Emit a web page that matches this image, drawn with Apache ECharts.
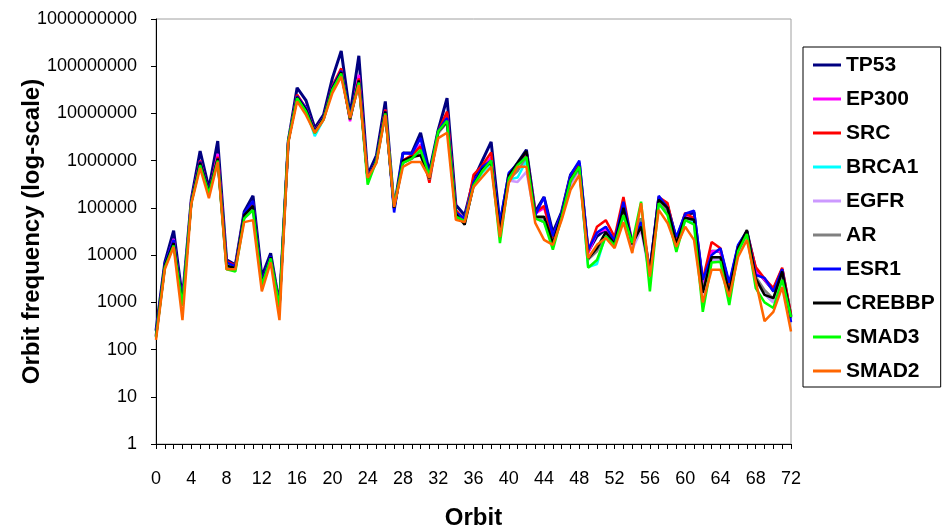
<!DOCTYPE html>
<html>
<head>
<meta charset="utf-8">
<script src="https://cdn.jsdelivr.net/npm/echarts@6/dist/echarts.min.js"></script>
<style>
  html, body { margin: 0; padding: 0; background: #fff; }
  #chart { width: 944px; height: 530px; }
</style>
</head>
<body>
<div id="chart"></div>
<script>
// orbit 0..72
var orbits = [];
for (var i = 0; i <= 72; i++) orbits.push(String(i));

var yTicks = [1, 10, 100, 1000, 10000, 100000, 1000000, 10000000, 100000000, 1000000000];

var names = ['TP53', 'EP300', 'SRC', 'BRCA1', 'EGFR', 'AR', 'ESR1', 'CREBBP', 'SMAD3', 'SMAD2'];
var colors = ['#000080', '#ff00ff', '#ff0000', '#00ffff', '#cc99ff', '#808080', '#0000ff', '#000000', '#00ff00', '#ff6600'];

// values per orbit
var TP53 = [250,7000,33000,1200,150000,1600000,260000,2600000,8000,6200,83000,180000,3500,11000,900,2600000,35000000,19000000,4900000,9300000,56000000,210000000,9300000,166000000,500000,1300000,18000000,100000,1450000,1450000,3900000,580000,4500000,21000000,115000,70000,390000,1000000,2500000,45000,500000,900000,1700000,83000,170000,30000,83000,500000,900000,12000,25000,35000,20000,120000,15000,60000,4500,160000,110000,22000,70000,80000,2500,12000,12000,2200,15000,32000,5000,3000,1800,5000,500];
var EP300 = [200,6000,22000,900,140000,1000000,200000,1400000,6500,5500,70000,120000,2500,9000,850,2600000,24000000,13000000,4200000,8000000,35000000,85000000,6800000,66000000,420000,1000000,12000000,100000,1000000,1300000,2200000,400000,4000000,10000000,80000,55000,350000,700000,1200000,30000,450000,800000,1500000,75000,100000,25000,75000,450000,800000,11000,30000,35000,18000,120000,15000,50000,4000,150000,100000,18000,65000,60000,2500,12000,12000,2000,15000,30000,4500,3000,1800,4500,500];
var SRC = [200,6000,20000,900,140000,1000000,220000,1200000,7500,6000,75000,130000,2500,9000,850,2600000,25000000,13000000,4300000,8000000,38000000,90000000,7500000,55000000,430000,1000000,12000000,95000,1000000,1300000,2000000,340000,4200000,11000000,90000,55000,500000,800000,1500000,25000,420000,800000,1500000,80000,110000,22000,75000,480000,800000,12000,40000,55000,24000,170000,18000,50000,4500,170000,126000,20000,78000,60000,3000,19000,14000,2200,15000,30000,5600,3200,2000,5400,550];
var BRCA1 = [190,5500,18000,850,130000,850000,200000,1000000,6000,5500,65000,100000,2300,8500,800,2600000,22000000,12000000,3300000,7500000,33000000,75000000,8000000,45000000,400000,950000,10000000,100000,900000,1100000,1600000,430000,4000000,7000000,70000,50000,280000,550000,900000,30000,400000,440000,1000000,65000,50000,18000,65000,350000,700000,5600,6500,28000,16000,80000,16000,45000,3500,130000,80000,15000,60000,50000,1500,8000,8000,1200,12000,25000,3000,1500,1000,3500,450];
var EGFR = [180,5500,17000,850,130000,850000,190000,1000000,5500,5000,60000,90000,2200,8000,800,2600000,21000000,11000000,3800000,7500000,32000000,70000000,7500000,42000000,400000,950000,10000000,100000,900000,1100000,1600000,420000,3800000,6500000,65000,50000,300000,600000,1000000,30000,380000,355000,580000,60000,50000,18000,60000,300000,650000,8000,15000,28000,15000,70000,13000,35000,3500,120000,75000,14000,55000,45000,1500,8000,8000,1200,11000,25000,3000,1500,1000,3500,450];
var AR = [190,5500,18000,850,130000,850000,200000,1000000,5800,5200,62000,95000,2300,8500,800,2600000,22000000,12000000,3900000,7500000,33000000,72000000,7500000,43000000,400000,950000,10000000,100000,900000,1100000,1600000,400000,3800000,6500000,70000,50000,300000,600000,1000000,30000,400000,600000,1200000,60000,60000,17000,65000,350000,700000,8000,12000,28000,17000,90000,17000,60000,3500,130000,85000,15000,60000,55000,1800,9000,9000,1500,13000,28000,3500,1800,1200,4000,480];
var ESR1 = [210,6500,21000,950,140000,950000,220000,1100000,7000,5800,78000,140000,2600,9500,850,2600000,23000000,13000000,4200000,8000000,36000000,80000000,8500000,48000000,420000,1050000,11000000,80000,1450000,1400000,3000000,450000,4300000,8000000,80000,60000,350000,740000,1000000,48000,550000,850000,1600000,70000,170000,25000,80000,500000,1000000,13000,30000,40000,20000,135000,18000,50000,4900,180000,100000,24000,75000,87000,3000,10000,14000,2600,16500,32000,3800,3300,1700,5000,380];
var CREBBP = [190,6000,18000,900,130000,900000,210000,1100000,6000,5300,70000,110000,2400,9000,800,2600000,22000000,12000000,4000000,7800000,34000000,75000000,7500000,50000000,400000,1000000,11000000,100000,1000000,1200000,1300000,420000,4200000,6600000,75000,44000,300000,650000,940000,30000,480000,890000,1600000,65000,65000,18000,70000,400000,750000,8500,14000,31000,17000,100000,17000,40000,4500,150000,100000,17000,62000,56000,1600,9000,9000,1600,14000,34000,3200,1440,1230,4500,480];
var SMAD3 = [180,5500,16000,850,125000,800000,200000,1000000,5000,4500,60000,90000,2300,8500,800,2600000,21000000,11000000,3800000,7500000,32000000,70000000,8000000,45000000,310000,1000000,10000000,110000,900000,1100000,1700000,480000,4200000,7000000,65000,52000,300000,600000,1000000,18000,420000,800000,1200000,60000,50000,13000,65000,380000,750000,5400,7900,25000,16000,70000,18000,135000,1700,126000,70000,11700,55000,45000,630,7000,7200,880,12000,28000,2000,1000,760,3000,490];
var SMAD2 = [160,5000,15000,420,120000,700000,160000,940000,5000,5000,50000,55000,1700,7000,420,2400000,18000000,9300000,3900000,7300000,27000000,60000000,8000000,40000000,430000,900000,9300000,105000,740000,940000,940000,430000,3000000,3900000,56000,50000,275000,450000,740000,24000,340000,740000,740000,48000,21000,16500,56000,240000,500000,8700,16500,23000,14000,50000,11000,126000,3500,91000,48000,15000,40000,21000,1000,4900,4900,1300,9100,21000,2800,400,630,2100,240];

var seriesData = [TP53, EP300, SRC, BRCA1, EGFR, AR, ESR1, CREBBP, SMAD3, SMAD2];

var font = 'Liberation Sans, Arial, sans-serif';
var chart = echarts.init(document.getElementById('chart'));

var series = names.map(function (n, k) {
    return {
        name: n,
        type: 'line',
        data: seriesData[k],
        symbol: 'none',
        color: colors[k],
        lineStyle: { width: k === 0 ? 3 : 2.5, color: colors[k] },
        animation: false
    };
});

chart.setOption({
    backgroundColor: '#fff',
    animation: false,
    grid: {
        left: 156, right: 153, top: 19, bottom: 86,
        outerBoundsMode: 'none',
        show: true, borderColor: '#a0a0a0', borderWidth: 1
    },
    legend: {
        orient: 'vertical',
        left: 803, top: 47,
        data: names,
        icon: 'rect',
        itemWidth: 28, itemHeight: 3, itemGap: 10,
        padding: [6, 6, 4, 10],
        borderColor: '#000', borderWidth: 1,
        textStyle: { fontFamily: font, fontWeight: 'bold', fontSize: 21, color: '#000', lineHeight: 24 }
    },
    xAxis: {
        type: 'category',
        data: orbits,
        boundaryGap: false,
        name: 'Orbit',
        nameLocation: 'middle',
        nameGap: 62,
        nameTextStyle: { fontFamily: font, fontWeight: 'bold', fontSize: 24, color: '#000' },
        axisLine: { lineStyle: { color: '#000', width: 1 } },
        axisTick: { interval: 0, length: 5, lineStyle: { color: '#000' } },
        axisLabel: { interval: 3, margin: 26, fontFamily: font, fontSize: 18, color: '#000' },
        splitLine: { show: false }
    },
    yAxis: {
        type: 'log',
        logBase: 10,
        min: yTicks[0],
        max: yTicks[yTicks.length - 1],
        name: 'Orbit frequency (log-scale)',
        nameLocation: 'middle',
        nameGap: 112,
        nameMoveOverlap: false,
        nameTextStyle: { fontFamily: font, fontWeight: 'bold', fontSize: 24, color: '#000' },
        axisLine: { show: true, lineStyle: { color: '#000', width: 1 } },
        axisTick: { show: true, length: 5, lineStyle: { color: '#000' } },
        axisLabel: {
            margin: 19, fontFamily: font, fontSize: 18, color: '#000',
            formatter: function (v) { return String(Math.round(v)); }
        },
        splitLine: { show: false }
    },
    series: series
});
</script>
</body>
</html>
